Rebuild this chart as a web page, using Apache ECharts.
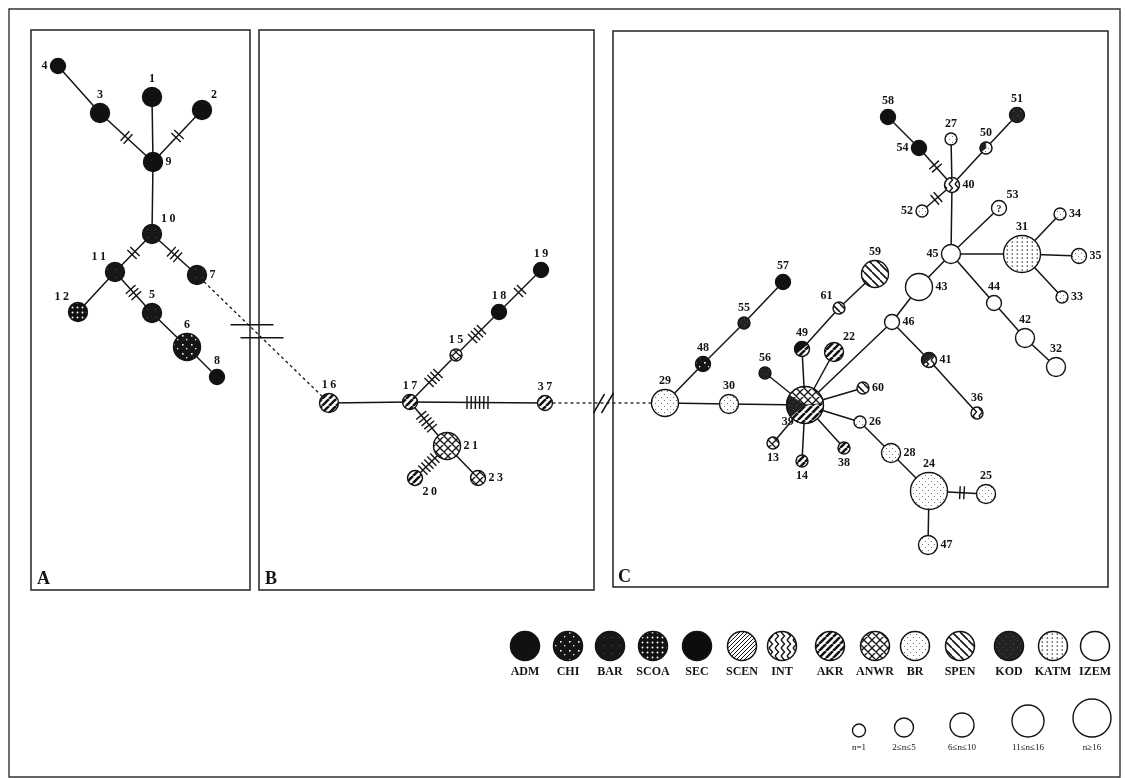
<!DOCTYPE html>
<html><head><meta charset="utf-8">
<script src="https://cdn.jsdelivr.net/npm/echarts@6/dist/echarts.min.js"></script>
<style>html,body{margin:0;padding:0;background:#fff}#c{width:1125px;height:778px}</style>
</head><body><div id="c"></div>
<script>
// ---------------- DATA ----------------
const hapIds = [1,2,3,4,5,6,7,8,9,10,11,12,
  15,16,17,18,19,20,21,23,37,
  13,14,22,24,25,26,27,28,29,30,31,32,33,34,35,36,38,39,40,41,42,43,44,45,46,47,48,49,50,51,52,53,54,55,56,57,58,59,60,61];
const hapX = [152,202,100,58,152,187,197,217,153,152,115,78,
  456,329,410,499,541,415,447,478,545,
  773,802,834,929,986,860,951,891,665,729,1022,1056,1062,1060,1079,977,844,805,952,929,1025,919,994,951,892,928,703,802,986,1017,922,999,919,744,765,783,888,875,863,839];
const hapY = [97,110,113,66,313,347,275,377,162,234,272,312,
  355,403,402,312,270,478,446,478,403,
  443,461,352,491,494,422,139,453,403,404,254,367,297,214,256,413,448,405,185,360,338,287,303,254,322,545,364,349,148,115,211,208,148,323,373,282,117,274,388,308];
// frequency class: 1 = n=1, 2 = 2..5, 3 = 6..10, 4 = 11..16, 5 = >16
const hapClass = [3,3,3,2,3,4,3,2,3,3,3,3,
  1,3,2,2,2,2,4,2,2,
  1,1,3,5,3,1,1,3,4,3,5,3,1,1,2,1,1,5,2,2,3,4,2,3,2,3,2,2,1,2,1,2,2,1,1,2,2,4,1,1];
// population composition of each haplotype
const hapPop = ['ADM','ADM','ADM','ADM','BAR','CHI','BAR','ADM','ADM','BAR','BAR','SCOA',
  'ANWR','AKR','AKR','ADM','ADM','AKR','ANWR','ANWR','AKR',
  'ANWR','AKR','AKR','BR','BR','BR','BR','BR','BR','BR','KATM','IZEM','BR','BR','BR','INT','AKR',
  'KOD:0.2,ANWR:0.4,AKR:0.4','INT','KOD:0.5,INT:0.5','IZEM','IZEM','IZEM','IZEM','IZEM','BR','CHI',
  'ADM:0.5,AKR:0.5','KOD:0.35,BR:0.65','KOD','BR','IZEM','ADM','KOD','KOD','ADM','ADM','SPEN','SPEN','SPEN'];
const hapPanel = ['A','A','A','A','A','A','A','A','A','A','A','A',
  'B','B','B','B','B','B','B','B','B',
  'C','C','C','C','C','C','C','C','C','C','C','C','C','C','C','C','C','C','C','C','C','C','C','C','C','C','C','C','C','C','C','C','C','C','C','C','C','C','C','C'];
const hapLabelSide = ['t','tr','t','l','t','t','r','t','r','tr','tl','tl',
  't','t','t','t','t','br','r','r','t',
  'b','b','tr','t','t','r','t','r','t','t','t','t','r','r','r','t','b','bl','r','r','t','r','t','l','r','r','t','t','t','t','l','tr','l','t','t','t','t','t','r','tl'];
const markedHaps = [53];
const markText = ['?'];

// network links (mutational steps shown as ticks)
const edgeFrom  = [4,3,1,2,9,10,10,11,11,5,6, 16,17,15,18,17,17,21,21,
  29,48,55,29,30,39,39,49,61,39,39,46,43,45,40,54,40,40,50,40,45,45,31,31,31,45,44,42,46,41,39,39,26,28,24,24,39,39,39];
const edgeTo    = [3,9,9,9,10,11,7,12,5,6,8, 17,15,18,19,37,21,20,23,
  48,55,57,30,39,56,49,61,59,22,46,43,45,40,54,58,27,50,51,52,53,31,34,35,33,44,42,32,41,36,60,26,28,24,25,47,38,14,13];
const edgeSteps = [0,2,0,2,0,2,3,0,3,0,0, 0,4,4,2,6,5,5,0,
  0,0,0,0,0,0,0,0,0,0,0,0,0,0,2,0,0,0,0,2,0,0,0,0,0,0,0,0,0,0,0,0,0,0,2,0,0,0,0];
// broken (dashed) connections between networks
const dashFrom = [7,37];
const dashTo   = [16,29];

const popNames = ['ADM','CHI','BAR','SCOA','SEC','SCEN','INT','AKR','ANWR','BR','SPEN','KOD','KATM','IZEM'];
const sizeClassLabels = ['n=1','2≤n≤5','6≤n≤10','11≤n≤16','n≥16'];
const panelLabels = ['A','B','C'];

// ---------------- STYLE / LAYOUT ----------------
const INK = '#141414';
const nodeRadius = [0,6,7.5,9.5,13.5,18.5];
const legendRadius = [6.5,9.5,12,16,19];
const legendX = [525,568,610,653,697,742,782,830,875,915,960,1009,1053,1095];
const legendY = 646;
const sizeLegendX = [859,904,962,1028,1092];
const sizeLegendBottom = 737;
const panelRects = [[31,30,219,560],[259,30,335,560],[613,31,495,556]];
const panelLabelPos = [[37,579],[265,579],[618,577]];
const SERIF = '"Liberation Serif","DejaVu Serif",serif';

function makeTile(w,h,draw){const c=document.createElement('canvas');c.width=w;c.height=h;const g=c.getContext('2d');draw(g,w,h);return {image:c,repeat:'repeat'};}
function diag(s,lw,dir,bg,fg){return makeTile(s,s,(g)=>{g.fillStyle=bg||'#fff';g.fillRect(0,0,s,s);g.strokeStyle=fg||INK;g.lineWidth=lw;g.beginPath();
  for(const o of [-s,0,s]){ if(dir==='/'){g.moveTo(o,s);g.lineTo(o+s,0);} else {g.moveTo(o,0);g.lineTo(o+s,s);} }
  g.stroke();});}
const fills = {
  ADM:'#111',
  CHI:makeTile(9,9,(g)=>{g.fillStyle='#151515';g.fillRect(0,0,9,9);g.fillStyle='#fff';g.fillRect(2,2,1.6,1.6);g.fillRect(6,6,1.3,1.3);}),
  BAR:makeTile(8,8,(g)=>{g.fillStyle='#181818';g.fillRect(0,0,8,8);g.fillStyle='#555';g.fillRect(3,5,1,1);}),
  SCOA:makeTile(5,5,(g)=>{g.fillStyle='#121212';g.fillRect(0,0,5,5);g.fillStyle='#fff';g.beginPath();g.arc(2.5,2.5,0.95,0,7);g.fill();}),
  SEC:'#0c0c0c',
  SCEN:diag(4,1,'/'),
  INT:makeTile(6,8,(g)=>{g.fillStyle='#fff';g.fillRect(0,0,6,8);g.strokeStyle=INK;g.lineWidth=1.4;g.beginPath();g.moveTo(1,0);g.lineTo(4.5,4);g.lineTo(1,8);g.stroke();}),
  AKR:diag(7,2.6,'/'),
  ANWR:makeTile(8,8,(g)=>{g.fillStyle='#fff';g.fillRect(0,0,8,8);g.strokeStyle=INK;g.lineWidth=1.3;g.beginPath();
    for(const o of [-8,0,8]){g.moveTo(o,8);g.lineTo(o+8,0);g.moveTo(o,0);g.lineTo(o+8,8);} g.stroke();}),
  BR:makeTile(6,6,(g)=>{g.fillStyle='#fff';g.fillRect(0,0,6,6);g.fillStyle='#777';g.fillRect(1,1,1,1);g.fillRect(4,4,1,1);}),
  SPEN:diag(8,1.6,'\\'),
  KOD:makeTile(7,7,(g)=>{g.fillStyle='#222';g.fillRect(0,0,7,7);g.fillStyle='#4a4a4a';g.fillRect(2,3,1,1);g.fillRect(5,6,1,1);}),
  KATM:makeTile(5,4,(g)=>{g.fillStyle='#fff';g.fillRect(0,0,5,4);g.fillStyle=INK;g.fillRect(1.6,1.5,1.4,1.1);}),
  IZEM:'#fff'
};

function parseComp(s){return s.split(',').map(t=>{const [p,f]=t.split(':');return {pop:p,f:f?parseFloat(f):1};});}
function idxOf(id){return hapIds.indexOf(id);}

const dirs = {t:[0,-1],b:[0,1],l:[-1,0],r:[1,0],tl:[-0.72,-0.72],tr:[0.72,-0.72],bl:[-0.72,0.72],br:[0.72,0.72]};
const aligns = {t:['center','bottom'],b:['center','top'],l:['right','middle'],r:['left','middle'],tl:['right','bottom'],tr:['left','bottom'],bl:['right','top'],br:['left','top']};

const nodeData = hapIds.map((id,i)=>[hapX[i],hapY[i],hapClass[i]]);
const edgeData = edgeFrom.map((f,k)=>{const a=idxOf(f),b=idxOf(edgeTo[k]);return [hapX[a],hapY[a],hapX[b],hapY[b],edgeSteps[k],hapClass[a],hapClass[b]];});
const dashData = dashFrom.map((f,k)=>{const a=idxOf(f),b=idxOf(dashTo[k]);return [hapX[a],hapY[a],hapX[b],hapY[b],hapClass[a],hapClass[b],k];});
// gap between panels where the dashed link is broken
const breakX = [(panelRects[0][0]+panelRects[0][2]+panelRects[1][0])/2,(panelRects[1][0]+panelRects[1][2]+panelRects[2][0])/2];

function pieShapes(cx,cy,r,comp){
  const out=[];
  if(comp.length===1){out.push({type:'circle',shape:{cx,cy,r},style:{fill:fills[comp[0].pop],stroke:INK,lineWidth:1.4}});return out;}
  let a=0.78*Math.PI;
  comp.forEach(c=>{const e=a+c.f*2*Math.PI;out.push({type:'sector',shape:{cx,cy,r0:0,r,startAngle:a,endAngle:e,clockwise:true},style:{fill:fills[c.pop],stroke:INK,lineWidth:0.6}});a=e;});
  out.push({type:'circle',shape:{cx,cy,r},style:{fill:'none',stroke:INK,lineWidth:1.4}});
  return out;
}

const option = {
  animation:false,
  backgroundColor:'#fff',
  grid:{left:0,right:0,top:0,bottom:0},
  xAxis:{type:'value',min:0,max:1125,show:false},
  yAxis:{type:'value',min:0,max:778,inverse:true,show:false},
  graphic:[
    {type:'rect',shape:{x:9,y:9,width:1111,height:768},style:{fill:'none',stroke:'#333',lineWidth:1.4},silent:true,z:0},
    ...panelRects.map(r=>({type:'rect',shape:{x:r[0],y:r[1],width:r[2],height:r[3]},style:{fill:'none',stroke:'#222',lineWidth:1.5},z:1})),
    ...panelLabels.map((t,i)=>({type:'text',x:panelLabelPos[i][0],y:panelLabelPos[i][1],style:{text:t,font:'bold 18px '+SERIF,fill:INK,verticalAlign:'middle'},z:5}))
  ],
  series:[
    { // edges with mutation ticks
      type:'custom',coordinateSystem:'cartesian2d',z:2,silent:true,
      encode:{x:[0,2],y:[1,3]},
      data:edgeData,
      renderItem:(params,api)=>{
        const p1=api.coord([api.value(0),api.value(1)]),p2=api.coord([api.value(2),api.value(3)]);
        const n=api.value(4),r1=nodeRadius[api.value(5)],r2=nodeRadius[api.value(6)];
        const dx=p2[0]-p1[0],dy=p2[1]-p1[1],L=Math.hypot(dx,dy),ux=dx/L,uy=dy/L,nx=-uy,ny=ux;
        const ch=[{type:'line',shape:{x1:p1[0],y1:p1[1],x2:p2[0],y2:p2[1]},style:{stroke:INK,lineWidth:1.5}}];
        const mid=(r1+L-r2)/2;
        for(let j=0;j<n;j++){
          const o=mid+(j-(n-1)/2)*4.2,px=p1[0]+ux*o,py=p1[1]+uy*o;
          ch.push({type:'line',shape:{x1:px-nx*6.5,y1:py-ny*6.5,x2:px+nx*6.5,y2:py+ny*6.5},style:{stroke:INK,lineWidth:1.4}});
        }
        return {type:'group',children:ch};
      }
    },
    { // dashed links between networks, with break marks
      type:'custom',coordinateSystem:'cartesian2d',z:2,silent:true,
      encode:{x:[0,2],y:[1,3]},
      data:dashData,
      renderItem:(params,api)=>{
        const p1=api.coord([api.value(0),api.value(1)]),p2=api.coord([api.value(2),api.value(3)]);
        const r1=nodeRadius[api.value(4)],r2=nodeRadius[api.value(5)],k=api.value(6);
        const dx=p2[0]-p1[0],dy=p2[1]-p1[1],L=Math.hypot(dx,dy),ux=dx/L,uy=dy/L;
        const ch=[{type:'line',shape:{x1:p1[0]+ux*r1,y1:p1[1]+uy*r1,x2:p2[0]-ux*r2,y2:p2[1]-uy*r2},style:{stroke:INK,lineWidth:1.3,lineDash:[3,3]}}];
        const bx=api.coord([breakX[k],0])[0];
        const by=p1[1]+(bx-p1[0])*dy/dx;
        if(k===0){
          ch.push({type:'line',shape:{x1:bx-24,y1:by-6,x2:bx+19,y2:by-6},style:{stroke:INK,lineWidth:1.5}});
          ch.push({type:'line',shape:{x1:bx-14,y1:by+7,x2:bx+29,y2:by+7},style:{stroke:INK,lineWidth:1.5}});
        } else {
          ch.push({type:'line',shape:{x1:bx-10,y1:by+10,x2:bx+1,y2:by-9},style:{stroke:INK,lineWidth:1.5}});
          ch.push({type:'line',shape:{x1:bx-2,y1:by+10,x2:bx+10,y2:by-10},style:{stroke:INK,lineWidth:1.5}});
        }
        return {type:'group',children:ch};
      }
    },
    { // haplotype nodes
      type:'custom',coordinateSystem:'cartesian2d',z:3,silent:true,
      encode:{x:0,y:1},
      data:nodeData,
      renderItem:(params,api)=>{
        const i=params.dataIndex;
        const p=api.coord([api.value(0),api.value(1)]);
        const r=nodeRadius[api.value(2)];
        const ch=pieShapes(p[0],p[1],r,parseComp(hapPop[i]));
        const m=markedHaps.indexOf(hapIds[i]);
        if(m>=0) ch.push({type:'text',style:{text:markText[m],x:p[0],y:p[1]+1,align:'center',verticalAlign:'middle',font:'bold 10px '+SERIF,fill:INK}});
        const side=hapLabelSide[i],d=dirs[side],al=aligns[side];
        const gap=(hapIds[i]===39)?-3:3;
        const txt=hapPanel[i]==='C'?String(hapIds[i]):String(hapIds[i]).split('').join('\u2009');
        ch.push({type:'text',style:{text:txt,x:p[0]+d[0]*(r+gap),y:p[1]+d[1]*(r+gap),align:al[0],verticalAlign:al[1],font:'bold 12px '+SERIF,fill:INK}});
        return {type:'group',children:ch};
      }
    },
    { // population legend
      type:'custom',coordinateSystem:'none',z:3,silent:true,
      data:popNames.map((n,i)=>[i]),
      renderItem:(params,api)=>{
        const i=params.dataIndex,x=legendX[i];
        return {type:'group',children:[
          {type:'circle',shape:{cx:x,cy:legendY,r:14.5},style:{fill:fills[popNames[i]],stroke:INK,lineWidth:1.5}},
          {type:'text',style:{text:popNames[i],x:x,y:legendY+26,align:'center',verticalAlign:'middle',font:'bold 12px '+SERIF,fill:INK}}
        ]};
      }
    },
    { // size legend
      type:'custom',coordinateSystem:'none',z:3,silent:true,
      data:sizeClassLabels.map((n,i)=>[i]),
      renderItem:(params,api)=>{
        const i=params.dataIndex,x=sizeLegendX[i],r=legendRadius[i];
        return {type:'group',children:[
          {type:'circle',shape:{cx:x,cy:sizeLegendBottom-r,r:r},style:{fill:'#fff',stroke:INK,lineWidth:1.4}},
          {type:'text',style:{text:sizeClassLabels[i],x:x,y:sizeLegendBottom+11,align:'center',verticalAlign:'middle',font:'9px '+SERIF,fill:INK}}
        ]};
      }
    }
  ]
};
const chart = echarts.init(document.getElementById('c'));
chart.setOption(option);
</script></body></html>
